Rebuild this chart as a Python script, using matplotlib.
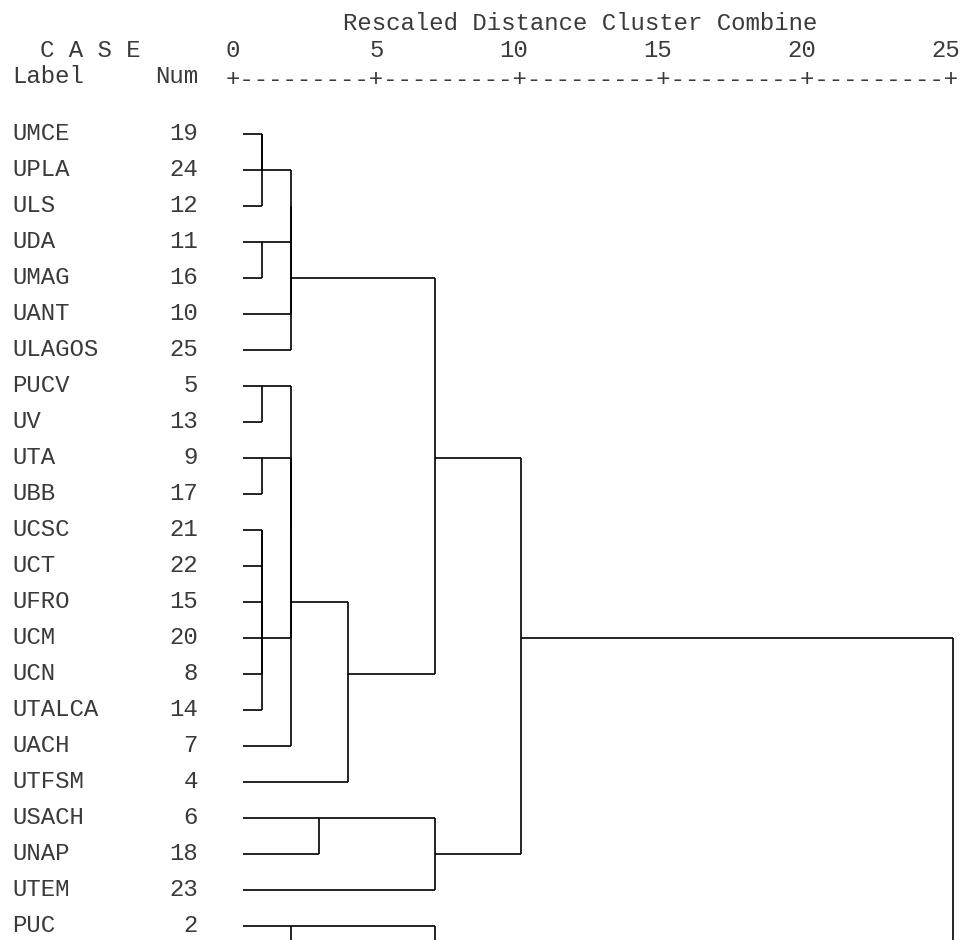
import matplotlib
matplotlib.use('Agg')
import matplotlib.pyplot as plt

# cases in dendrogram order (label, case number)
labels = ["UMCE", "UPLA", "ULS", "UDA", "UMAG", "UANT", "ULAGOS",
          "PUCV", "UV", "UTA", "UBB", "UCSC", "UCT", "UFRO", "UCM",
          "UCN", "UTALCA", "UACH", "UTFSM", "USACH", "UNAP", "UTEM", "PUC"]
case_nums = [19, 24, 12, 11, 16, 10, 25, 5, 13, 9, 17, 21, 22, 15, 20,
             8, 14, 7, 4, 6, 18, 23, 2]

# branches that continue below the bottom of the page
hidden = ["_h1", "_h2", "_h3"]

# agglomeration steps: (cluster a, cluster b, rescaled distance); step k -> "c<k>"
merges = [
    ("UMCE", "UPLA", 1),
    ("c0", "ULS", 1),
    ("UDA", "UMAG", 1),
    ("c1", "c2", 2),
    ("c3", "UANT", 2),
    ("c4", "ULAGOS", 2),
    ("PUCV", "UV", 1),
    ("UTA", "UBB", 1),
    ("UCSC", "UCT", 1),
    ("UFRO", "UCM", 1),
    ("c9", "UCN", 1),
    ("c8", "c10", 1),
    ("c11", "UTALCA", 1),
    ("c7", "c12", 2),
    ("c6", "c13", 2),
    ("c14", "UACH", 2),
    ("c15", "UTFSM", 4),
    ("c5", "c16", 7),
    ("USACH", "UNAP", 3),
    ("c18", "UTEM", 7),
    ("c17", "c19", 10),
    ("PUC", "_h1", 2),
    ("c21", "_h2", 7),
    ("c20", "_h3", 25),
]

axis_ticks = [0, 5, 10, 15, 20, 25]
title = "Rescaled Distance Cluster Combine"

FONT = dict(family="Liberation Mono", size=17.28, color="#3a3a3a")
LEAF_X = 0.33      # where the leaf lines start
BASE = 0.18        # text baseline offset below the row line

fig = plt.figure(figsize=(9.63, 9.40), dpi=100)
ax = fig.add_axes([0, 0, 1, 1])
ax.set_xlim(-233 / 28.8, (963 - 233) / 28.8)
ax.set_ylim((940 - 134) / 36, -134 / 36)
ax.axis('off')

# dendrogram
row = {name: i for i, name in enumerate(labels + hidden)}
level = {name: LEAF_X for name in labels + hidden}
for k, (a, b, h) in enumerate(merges):
    for child in (a, b):
        ax.plot([level[child], h], [row[child], row[child]], color='black', lw=1.2,
                solid_capstyle='butt')
    ax.plot([h, h], [row[a], row[b]], color='black', lw=1.2, solid_capstyle='butt')
    row["c%d" % k] = (row[a] + row[b]) // 2
    level["c%d" % k] = h

# case labels and numbers
for i, (name, num) in enumerate(zip(labels, case_nums)):
    ax.text(-7.67, i + BASE, name, ha='left', va='baseline', **FONT)
    ax.text(-1.22, i + BASE, str(num), ha='right', va='baseline', **FONT)

# header
ax.text(3.82, -2.90, title, ha='left', va='baseline', **FONT)
ax.text(-6.70, -2.14, "C A S E", ha='left', va='baseline', **FONT)
for t in axis_ticks:
    ax.text(t + 0.25, -2.14, str(t), ha='right', va='baseline', **FONT)
ax.text(-7.67, -1.42, "Label", ha='left', va='baseline', **FONT)
ax.text(-1.22, -1.42, "Num", ha='right', va='baseline', **FONT)
step = axis_ticks[1] - axis_ticks[0]
ruler = "+" + ("-" * (2 * step - 1) + "+") * (len(axis_ticks) - 1)
ax.text(axis_ticks[0] - 0.25, -1.32, ruler, ha='left', va='baseline', **FONT)

fig.savefig('out.png', dpi=100)
